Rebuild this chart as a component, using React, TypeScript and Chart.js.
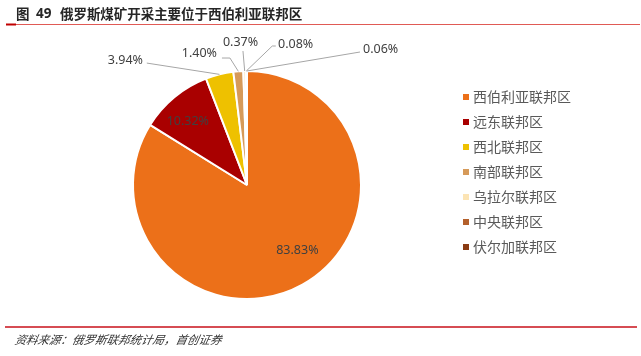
import React, { useEffect, useRef } from "react";
import { Chart, registerables } from "chart.js";

Chart.register(...registerables);

const categories = ["西伯利亚联邦区", "远东联邦区", "西北联邦区", "南部联邦区", "乌拉尔联邦区", "中央联邦区", "伏尔加联邦区"];
const shares = [83.83, 10.32, 3.94, 1.4, 0.37, 0.08, 0.06];
const valueLabels = ["83.83%", "10.32%", "3.94%", "1.40%", "0.37%", "0.08%", "0.06%"];
const colors = ["#EC7019", "#A90000", "#EEC100", "#D69A59", "#FCE4B4", "#B4602B", "#8A3B12"];
const titleText = "俄罗斯煤矿开采主要位于西伯利亚联邦区";
const sourceText = "资料来源：俄罗斯联邦统计局，首创证券";

type LabelStyle =
  | { kind: "in"; rf: number; dx: number; dy: number }
  | { kind: "out"; path: [number, number][]; tx: number; ty: number; align: CanvasTextAlign };

const labelStyles: LabelStyle[] = [
  { kind: "in", rf: 0.62, dx: 16, dy: 4 },
  { kind: "in", rf: 0.8, dx: -1, dy: 7 },
  { kind: "out", path: [[-72.7, -11.3]], tx: -76.5, ty: -14.3, align: "right" },
  { kind: "out", path: [[-8.4, -13.3], [-16.4, -13.3]], tx: -21.4, ty: -18.3, align: "right" },
  { kind: "out", path: [[-1.7, -20]], tx: -4.2, ty: -29, align: "center" },
  { kind: "out", path: [[26, -25], [29.5, -25]], tx: 31.7, ty: -27, align: "left" },
  { kind: "out", path: [[113.2, -19]], tx: 116.2, ty: -22, align: "left" },
];

const overlay = {
  id: "overlay",
  afterDraw(chart: any) {
    const ctx: CanvasRenderingContext2D = chart.ctx;
    ctx.save();
    ctx.fillStyle = "#262626";
    ctx.textBaseline = "middle";
    ctx.textAlign = "left";
    ctx.font = "bold 13.5px 'Noto Sans CJK SC'";
    ctx.fillText("图", 16, 14);
    ctx.font = "bold 13.5px 'Noto Sans'";
    ctx.fillText("49", 36, 14);
    ctx.font = "bold 13.5px 'Noto Sans CJK SC'";
    Array.from(titleText).forEach((ch, i) => {
      ctx.fillText(ch, 60 + i * 13.45, 14);
    });
    ctx.strokeStyle = "#E05A55";
    ctx.lineWidth = 1;
    ctx.beginPath();
    ctx.moveTo(6, 24.5);
    ctx.lineTo(640, 24.5);
    ctx.stroke();
    ctx.strokeStyle = "#C00000";
    ctx.lineWidth = 2;
    ctx.beginPath();
    ctx.moveTo(6, 24.5);
    ctx.lineTo(16, 24.5);
    ctx.stroke();
    ctx.strokeStyle = "#C8101A";
    ctx.lineWidth = 1.5;
    ctx.beginPath();
    ctx.moveTo(5, 327);
    ctx.lineTo(637, 327);
    ctx.stroke();
    ctx.fillStyle = "#333333";
    ctx.font = "italic 11.5px 'Noto Sans CJK SC'";
    ctx.save();
    ctx.translate(15, 340);
    ctx.transform(1, 0, -0.2, 1, 0, 0);
    ctx.fillText(sourceText, 0, 0);
    ctx.restore();

    const legX = 463;
    const legY0 = 97;
    const legStep = 25;
    ctx.font = "14px 'Noto Sans CJK SC'";
    categories.forEach((c, i) => {
      const y = legY0 + i * legStep;
      ctx.fillStyle = colors[i];
      ctx.fillRect(legX, y - 3, 6, 6);
      ctx.fillStyle = "#595959";
      ctx.fillText(c, legX + 10, y);
    });

    const meta = chart.getDatasetMeta(0);
    ctx.font = "12.5px 'Noto Sans'";
    meta.data.forEach((arc: any, i: number) => {
      const st = labelStyles[i];
      const mid = (arc.startAngle + arc.endAngle) / 2;
      if (st.kind === "in") {
        const r = arc.outerRadius * st.rf;
        const x = arc.x + Math.cos(mid) * r + st.dx;
        const y = arc.y + Math.sin(mid) * r + st.dy;
        ctx.fillStyle = "#404040";
        ctx.textAlign = "center";
        ctx.fillText(valueLabels[i], x, y);
      } else {
        const ex = arc.x + Math.cos(mid) * arc.outerRadius;
        const ey = arc.y + Math.sin(mid) * arc.outerRadius;
        ctx.strokeStyle = "#A6A6A6";
        ctx.lineWidth = 1;
        ctx.beginPath();
        ctx.moveTo(ex, ey);
        st.path.forEach(([dx, dy]) => ctx.lineTo(ex + dx, ey + dy));
        ctx.stroke();
        ctx.fillStyle = "#404040";
        ctx.textAlign = st.align;
        ctx.fillText(valueLabels[i], ex + st.tx, ey + st.ty);
      }
    });
    ctx.restore();
  },
};

export default function App() {
  const ref = useRef<HTMLCanvasElement>(null);
  useEffect(() => {
    if (!ref.current) return;
    const chart = new Chart(ref.current, {
      type: "pie",
      data: {
        labels: categories,
        datasets: [
          {
            data: shares,
            backgroundColor: colors,
            borderColor: "#FFFFFF",
            borderWidth: 2,
          },
        ],
      },
      options: {
        animation: false,
        responsive: false,
        devicePixelRatio: 1,
        layout: { padding: { left: 132, right: 279, top: 70, bottom: 56 } },
        plugins: { legend: { display: false }, tooltip: { enabled: false }, title: { display: false } },
      },
      plugins: [overlay],
    });
    return () => chart.destroy();
  }, []);
  return (
    <div style={{ position: "absolute", left: 0, top: 0, width: 641, height: 356, background: "#FFFFFF" }}>
      <canvas ref={ref} width={641} height={356} style={{ width: 641, height: 356, display: "block" }} />
    </div>
  );
}
